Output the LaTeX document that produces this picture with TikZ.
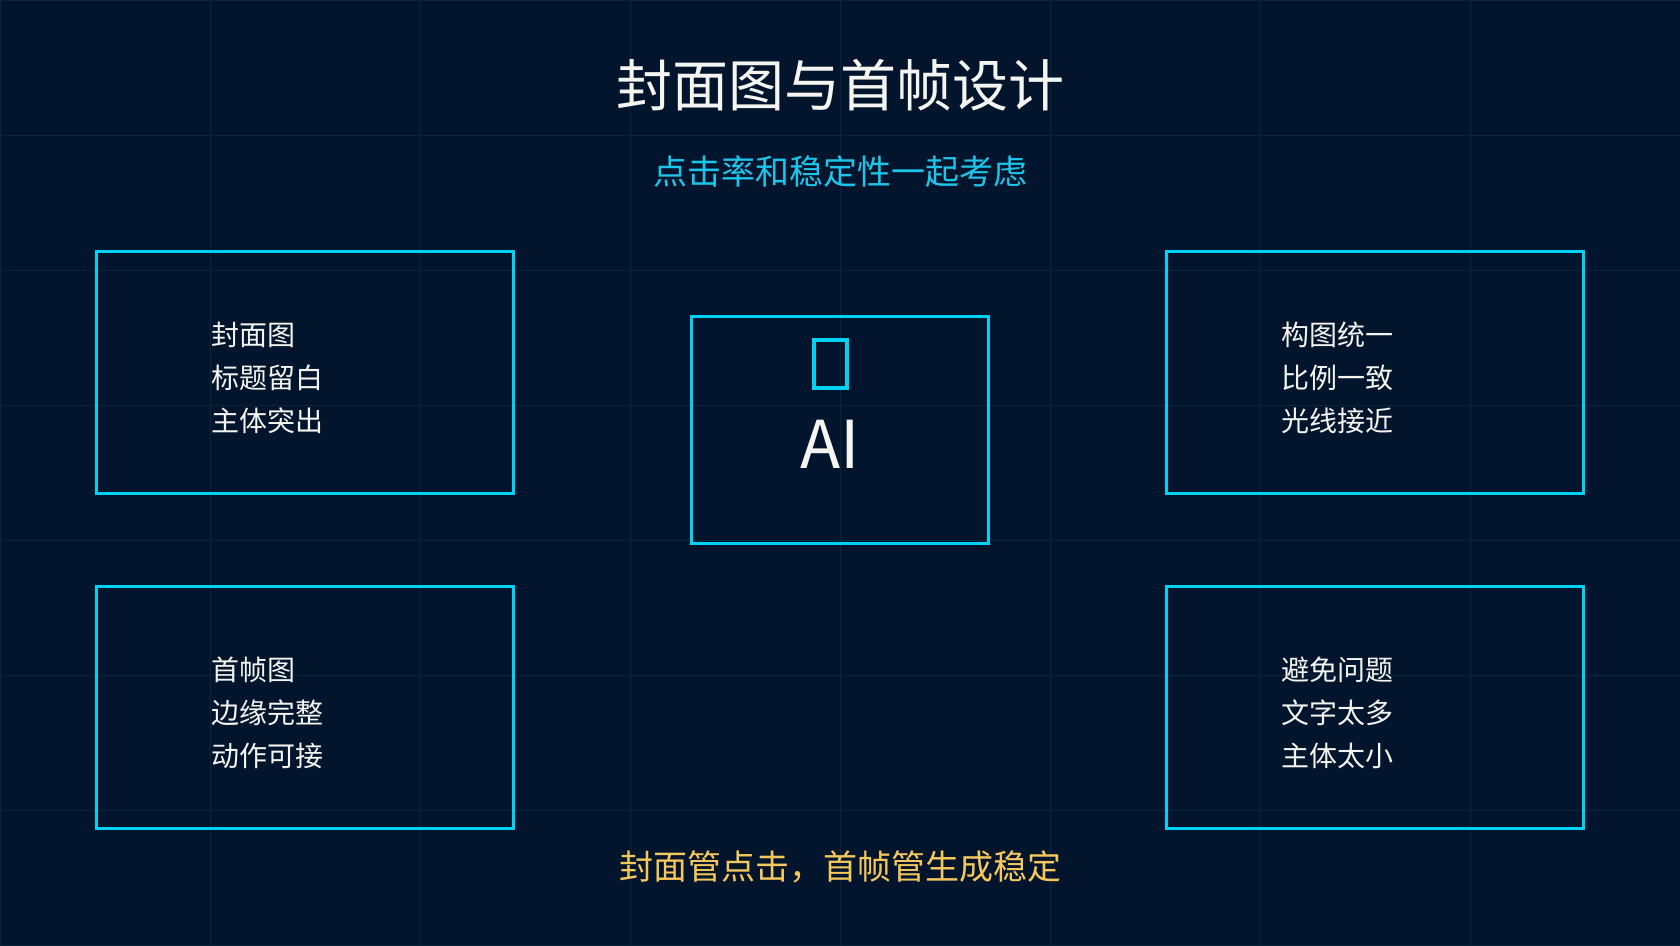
\documentclass[tikz,border=0pt]{standalone}
\usepackage{fontspec}
\setmainfont{Noto Sans CJK SC}
\usepackage{tikz}
\usetikzlibrary{positioning}
\definecolor{bgnavy}{RGB}{3,21,45}
\definecolor{gridteal}{RGB}{6,38,60}
\definecolor{cyan2}{RGB}{0,210,244}
\definecolor{subcyan}{RGB}{28,198,234}
\definecolor{gold2}{RGB}{244,200,92}
\definecolor{offwhite}{RGB}{244,244,240}
\tikzset{
  gridline/.style={draw=gridteal, line width=1pt},
  panelbox/.style={draw=cyan2, line width=3pt, minimum width=417pt,
    minimum height=242pt, inner sep=0pt},
  corebox/.style={draw=cyan2, line width=3pt, minimum width=297pt,
    minimum height=227pt, inner sep=0pt},
  iconbox/.style={draw=cyan2, line width=4pt, minimum width=33pt,
    minimum height=48pt, inner sep=0pt},
  paneltext/.style={text=offwhite, align=left, inner sep=0pt, anchor=west,
    font=\fontsize{28}{43}\selectfont},
  titletext/.style={text=offwhite, font=\fontsize{56}{60}\selectfont},
  subtext/.style={text=subcyan, font=\fontsize{34}{38}\selectfont},
  notetext/.style={text=gold2, font=\fontsize{34}{38}\selectfont},
  aitext/.style={text=offwhite, inner sep=0pt, font=\fontsize{66}{70}\selectfont}
}

\begin{document}
\begin{tikzpicture}[x=1pt, y=-1pt, node distance=90pt and 650pt]
\fill[bgnavy] (0,0) rectangle (1680,945);
\useasboundingbox (0,0) rectangle (1680,945);
\foreach \gx in {0,210,...,1680}
  \draw[gridline] (\gx,0) -- (\gx,945);
\foreach \gy in {0,135,...,945}
  \draw[gridline] (0,\gy) -- (1680,\gy);

\node[titletext] (title) at (840,85) {封面图与首帧设计};
\node[subtext] (subtitle) at (840,172) {点击率和稳定性一起考虑};

\node[panelbox] (cover) at (305.2,372.5) {};
\node[panelbox, right=of cover] (compose) {};
\node[panelbox, below=of cover] (firstframe) {};
\node[panelbox, below=of compose] (avoid) {};
\node[corebox] (core) at (839.5,429.5) {};

\node[paneltext] (covertext) at ([xshift=116pt,yshift=-5.5pt]cover.west)
{封面图\\标题留白\\主体突出};
\node[paneltext] (composetext) at ([xshift=116pt,yshift=-5.5pt]compose.west)
{构图统一\\比例一致\\光线接近};
\node[paneltext] (frametext) at ([xshift=116pt,yshift=-5.5pt]firstframe.west)
{首帧图\\边缘完整\\动作可接};
\node[paneltext] (avoidtext) at ([xshift=116pt,yshift=-5.5pt]avoid.west)
{避免问题\\文字太多\\主体太小};

\node[iconbox] (icon) at (830.5,364) {};
\node[aitext, anchor=base] (ai) at (830,468) {AI};

\node[notetext] (note) at (840,867) {封面管点击，首帧管生成稳定};
\end{tikzpicture}
\end{document}
